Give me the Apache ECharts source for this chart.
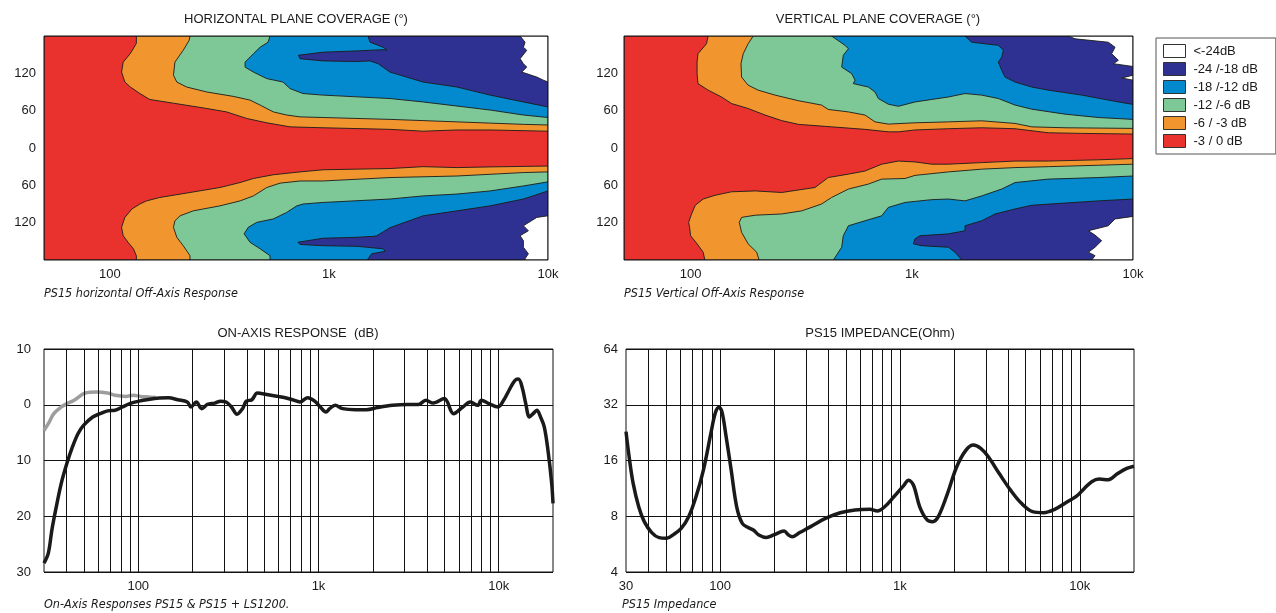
<!DOCTYPE html>
<html><head><meta charset="utf-8">
<script src="https://cdn.jsdelivr.net/npm/echarts@6/dist/echarts.min.js"></script>
<style>html,body{margin:0;padding:0;background:#fff}#c{width:1276px;height:613px}</style>
</head><body><div id="c"></div><script>
// ---------- DATA ----------
// Coverage plots: boundary curves [frequency Hz, angle deg] for each level
const hUp3 = [[132,180],[132,168],[124,152],[115,138],[113,122],[117,106],[124,98],[137,87.5],[152,78],[195,72],[277,63.5],[341,58],[421,47.5],[520,40.5],[664,34],[940,32.5],[1900,30],[2690,27],[3840,29],[5440,29],[10000,27]];
const hUp6 = [[232,180],[230,173],[216,157],[198,138],[195,117],[202,106],[224,98],[277,90],[365,83],[436,77],[485,69],[557,58],[641,53],[738,50],[940,49],[1900,46],[3840,42],[7720,38],[10000,37]];
const hUp12 = [[538,180],[527,170],[485,162],[452,151.5],[414,138],[414,130],[452,122],[520,111.5],[617,106],[664,95.5],[761,87.5],[940,85],[1900,79.5],[2690,74],[5440,61],[7720,53],[10000,49]];
const hUp18 = [[1508,180],[1540,170],[1766,162],[1842,157],[1766,158],[1330,156],[940,154],[725,149],[738,143.5],[940,140],[1330,139],[1540,140],[1675,135.5],[1900,122],[2690,106],[3840,98],[5440,85],[7720,74],[10000,66]];
const hUp24 = [[7457,180],[7857,170],[7720,162],[8000,157],[7457,143.5],[7720,135.5],[8000,130],[7590,122],[8890,114],[9527,109],[10000,106]];
const hLo3 = [[132,-180],[132,-173],[128,-162],[121,-151.5],[115,-141],[113,-127.5],[117,-111.5],[126,-98],[137,-90],[147,-85],[169,-79.5],[232,-71.5],[318,-63.5],[393,-55.5],[452,-49],[557,-43],[738,-38.4],[940,-35],[1900,-33],[2690,-30],[3840,-31.5],[5440,-30.4],[10000,-29]];
const hLo6 = [[232,-180],[232,-173],[216,-157],[202,-143.5],[195,-127.5],[198,-117],[209,-109],[240,-101],[318,-93],[393,-85],[452,-77],[520,-63.5],[598,-56.5],[738,-53],[940,-53],[1900,-47.5],[3840,-45],[7720,-39.5],[10000,-38.4]];
const hLo12 = [[538,-180],[538,-173],[485,-162],[436,-151.5],[410,-138],[428,-127.5],[468,-119.5],[557,-114],[641,-103.5],[713,-93],[761,-90],[940,-87.5],[1900,-82],[2690,-77],[3840,-74],[5440,-69],[7720,-61],[10000,-54.4]];
const hLo18 = [[1508,-180],[1508,-178],[1568,-170],[1803,-166],[1766,-162],[1343,-158],[940,-157],[738,-155],[722,-151.5],[940,-145],[1343,-143.5],[1590,-142],[1653,-141],[1901,-128],[2690,-109],[3844,-101],[5440,-93],[7720,-82],[10000,-69]];
const hLo24 = [[10000,-109],[8890,-111.5],[7720,-125],[8135,-133],[7457,-141],[7720,-149],[7720,-159.5],[8135,-170],[7857,-178],[7857,-180]];

const vUp3 = [[120,180],[118,167.5],[108,151.5],[107,138],[107,119.5],[108,103.5],[120,93],[138,82],[153,71.5],[182,63.5],[217,53],[258,44],[307,38],[434,34],[614,30],[783,26],[870,26],[1034,29],[1464,31],[2070,32.5],[2928,31],[4142,24.5],[5860,23.5],[10000,22.4]];
const vUp6 = [[192,180],[182,167.5],[173,151.5],[169,135.5],[170,114],[182,101],[202,93],[241,85],[307,76],[391,69],[419,62],[517,58],[614,53],[682,42],[783,38.4],[1034,40.5],[1464,42],[2070,43.7],[2928,39.5],[3483,34],[4928,32.5],[10000,31.5]];
const vUp12 = [[434,180],[499,165],[517,159.5],[490,149],[482,130],[535,119.5],[554,109],[544,103.5],[636,98],[682,90],[706,79.5],[783,70.4],[870,67],[1034,74],[1230,78],[1464,82],[1740,87.5],[2070,85],[2462,79.5],[2928,69],[3483,62.4],[4928,54.4],[6970,49],[10000,46]];
const vUp18 = [[1740,180],[1865,170],[2462,165],[2594,157],[2549,146],[2462,138],[2549,125],[2639,114],[2928,106],[3483,98],[4142,93],[5860,85],[7734,77],[10000,70]];
const vUp24 = [[5100,180],[5468,175.5],[7734,170],[8293,162],[8008,151.5],[8585,141],[8150,135.5],[10000,131]];
const vUp24b = [[10000,117],[8890,112.5],[10000,109]];
const vLo3 = [[116,-180],[114,-167.5],[107,-154],[100,-141],[99,-127.5],[98,-119.5],[101,-106],[105,-92],[114,-82],[129,-76],[153,-70.4],[196,-69],[258,-71.5],[365,-63.5],[419,-47.5],[517,-42],[614,-37],[731,-26],[870,-21],[1034,-22.4],[1230,-26],[1464,-26],[2070,-23.5],[2928,-21],[4142,-21],[6970,-19],[10000,-17]];
const vLo6 = [[204,-180],[199,-167.5],[182,-154],[170,-135.5],[166,-119.5],[170,-111.5],[196,-108],[258,-106],[318,-101],[391,-90],[434,-79.5],[517,-66],[636,-58],[731,-50],[932,-49],[1034,-44],[1464,-38.4],[2070,-34],[2928,-31.5],[4142,-30],[6970,-27.7],[10000,-26]];
const vLo12 = [[442,-180],[482,-159.5],[490,-141],[517,-125],[614,-117],[731,-109],[783,-95.5],[932,-87.5],[1230,-83],[1464,-82],[1740,-85],[2070,-77],[2549,-66],[2928,-55.5],[4142,-50],[6970,-47.5],[10000,-45]];
const vLo18 = [[1681,-180],[1568,-167.5],[1464,-159.5],[1108,-157],[1016,-154],[1034,-146],[1089,-141],[1464,-138],[1740,-133],[1740,-125],[2070,-117],[2378,-106],[2928,-98],[3483,-92],[4928,-88.5],[6970,-85],[10000,-82]];
const vLo24 = [[10000,-110],[8293,-114],[7734,-125],[6283,-133],[6735,-140],[7215,-149],[6735,-159.5],[6283,-167.5],[6735,-173],[6507,-180]];

const levelNames = ['-3 / 0 dB','-6 / -3 dB','-12 /-6 dB','-18 /-12 dB','-24 /-18 dB','<-24dB'];
const levelColors = ['#E9322E','#F1962F','#7DC896','#0389CD','#2E3192','#FFFFFF'];

// On-axis response [Hz, dB]
const ps15 = [[30,-28.4],[31.7,-26.6],[33.2,-22.4],[34.8,-18.9],[37.4,-14.1],[40.2,-10.5],[43.1,-7.6],[46.3,-5.2],[49.7,-3.7],[55.9,-2.2],[61.5,-1.6],[67.6,-1.1],[74.3,-1.0],[81.6,-0.4],[89.7,0.2],[101,0.65],[113.6,0.95],[131,1.2],[147,1.25],[166,0.9],[187,0.5],[196,-0.4],[210,0.5],[225,-0.7],[242,0.05],[266,0.3],[286,0.65],[307,0.5],[329,-0.4],[353,-1.7],[379,-0.7],[398,0.65],[427,0.9],[458,2.1],[516,1.85],[595,1.5],[654,1.25],[718,0.9],[789,0.5],[868,1.25],[953,0.65],[1023,-0.4],[1099,-1.3],[1153,-0.7],[1237,-0.1],[1360,-0.7],[1604,-0.9],[1848,-0.9],[2131,-0.5],[2575,-0.1],[3110,0.05],[3583,0.05],[3940,0.8],[4330,0.3],[4990,1.1],[5615,-1.6],[6320,-0.4],[6950,0.5],[7640,-0.1],[8010,0.8],[8810,0.2],[9910,-0.4],[10640,0.8],[11410,2.6],[12250,4.3],[12850,4.6],[13470,3.2],[14120,0.2],[14800,-2.2],[15520,-1.6],[16270,-1.0],[17060,-2.2],[17900,-4.0],[18760,-8.2],[19670,-14.1],[20000,-17.7]];
const ps15ls = [[30,-4.6],[31.7,-3.4],[34,-1.6],[37.4,-0.4],[40.2,0.2],[44.1,0.8],[50.8,2.1],[58.6,2.3],[67.6,2.1],[74.3,1.7],[85.5,1.5],[94,1.7],[103,1.5],[113.6,1.4],[125,1.3]];

// Impedance [Hz, Ohm]
const imp = [[30,22.9],[31.4,16.1],[32.9,12.0],[35.3,9.0],[37.9,7.48],[41.7,6.53],[45.8,6.13],[50.4,6.08],[55.3,6.39],[60.8,6.88],[66.9,7.96],[73.5,10.2],[80.8,14.2],[88.9,22.4],[94,28.8],[98.6,31.0],[102.4,29.4],[107.4,22.4],[115.3,14.2],[123.7,9.0],[132.8,7.33],[142.6,6.97],[153.1,6.74],[164.3,6.34],[180.7,6.15],[198.7,6.34],[218.4,6.60],[227,6.65],[240,6.34],[252,6.20],[277,6.53],[319,7.03],[385,7.79],[466,8.36],[563,8.65],[680,8.72],[748,8.54],[822,9.0],[925,10.2],[1040,11.6],[1117,12.5],[1188,11.8],[1288,9.0],[1416,7.64],[1520,7.48],[1633,7.96],[1837,10.6],[2068,14.8],[2329,18.2],[2559,19.4],[2812,18.6],[3093,16.8],[3563,13.6],[4109,11.1],[4734,9.39],[5458,8.47],[6290,8.36],[7250,8.72],[8355,9.47],[9630,10.3],[10590,11.3],[11640,12.3],[12800,12.7],[14390,12.6],[16210,13.6],[18240,14.5],[20000,14.9]];

// Tick labels and grid lines
const freqLabelsTop = {100:'100',1000:'1k',10000:'10k'};
const freqLabelsOnAxis = {100:'100',1000:'1k',10000:'10k'};
const freqLabelsImp = {30:'30',100:'100',1000:'1k',10000:'10k'};
const gridFreqs = [40,50,60,70,80,90,100,200,300,400,500,600,700,800,900,1000,2000,3000,4000,5000,6000,7000,8000,9000,10000];

// ---------- CHART ----------
const FMIN = 50, FMAX = 10000;
const closeU = b => b.concat([[FMAX,180]]);
const closeL = b => b.concat([[FMAX,-180]]);
const fullRect = [[FMIN,-180],[FMAX,-180],[FMAX,180],[FMIN,180]];

const hPolys = [[fullRect],[closeU(hUp3),closeL(hLo3)],[closeU(hUp6),closeL(hLo6)],[closeU(hUp12),closeL(hLo12)],[closeU(hUp18),closeL(hLo18)],[closeU(hUp24),closeL(hLo24)]];
const vPolys = [[fullRect],[closeU(vUp3),closeL(vLo3)],[closeU(vUp6),closeL(vLo6)],[closeU(vUp12),closeL(vLo12)],[closeU(vUp18),closeL(vLo18)],[closeU(vUp24),closeL(vLo24),vUp24b]];

const FONT = 'Liberation Sans, Arial, Helvetica, sans-serif';
const NARROW = 'Liberation Sans Narrow, DejaVu Sans Condensed, sans-serif';

function polySeries(polys, color, name, idx){
  return {
    type:'custom', name:name, xAxisIndex:idx, yAxisIndex:idx, clip:true, silent:true,
    itemStyle:{color:color},
    data: polys.map(p => p[0]),
    encode:{x:0,y:1},
    renderItem:function(params, api){
      const pts = polys[params.dataIndex].map(p => api.coord(p));
      return {type:'polygon', shape:{points:pts}, style:{fill:color, stroke:'#1b1b1b', lineWidth:0.9}};
    },
    animation:false
  };
}
function frameSeries(idx){
  return {
    type:'custom', name:'frame', xAxisIndex:idx, yAxisIndex:idx, silent:true, z:5,
    data:[fullRect[0]], encode:{x:0,y:1},
    renderItem:function(params, api){
      const pts = fullRect.map(p => api.coord(p));
      return {type:'polygon', shape:{points:pts}, style:{fill:'none', stroke:'#111', lineWidth:1}};
    },
    animation:false
  };
}
function freqFmt(map){ return v => { const r = Math.round(v); return map[r] !== undefined ? map[r] : ''; }; }
const labelStyle = {fontFamily:FONT, fontSize:13, color:'#1a1a1a'};

const series = [];
for (let i=0;i<6;i++) series.push(polySeries(hPolys[i], levelColors[i], levelNames[i], 0));
series.push(frameSeries(0));
for (let i=0;i<6;i++) series.push(polySeries(vPolys[i], levelColors[i], levelNames[i], 1));
series.push(frameSeries(1));

function gridLineSeries(idx, y){
  return {
    type:'line', xAxisIndex:idx, yAxisIndex:idx, data:[[100,y]], showSymbol:false, symbolSize:0,
    lineStyle:{width:0}, z:1, silent:true, animation:false,
    markLine:{silent:true, symbol:['none','none'], label:{show:false}, animation:false,
      lineStyle:{color:'#111', width:1, type:'solid'},
      emphasis:{disabled:true},
      data: gridFreqs.map(f => ({xAxis:f}))}
  };
}
series.push(gridLineSeries(2, 0));
series.push({type:'line', name:'PS15 + LS1200', xAxisIndex:2, yAxisIndex:2, data:ps15ls, showSymbol:false, smooth:0.35,
  lineStyle:{color:'#9d9d9d', width:3.5}, z:3, silent:true, animation:false});
series.push({type:'line', name:'PS15', xAxisIndex:2, yAxisIndex:2, data:ps15, showSymbol:false, smooth:0.35,
  lineStyle:{color:'#1a1a1a', width:3.5}, z:4, silent:true, animation:false});
series.push(gridLineSeries(3, 8));
series.push({type:'line', name:'Impedance', xAxisIndex:3, yAxisIndex:3, data:imp, showSymbol:false, smooth:0.35,
  lineStyle:{color:'#1a1a1a', width:3.5}, z:4, silent:true, animation:false});

const covY = (margin) => ({type:'value', min:-180, max:180, interval:60,
  axisLine:{show:false}, axisTick:{show:false}, splitLine:{show:false},
  axisLabel:Object.assign({margin:margin, formatter:v => Math.abs(v)===180 ? '' : String(Math.abs(v))}, labelStyle)});
const covX = () => ({type:'log', logBase:10, min:FMIN, max:FMAX,
  axisLine:{show:false}, axisTick:{show:false}, splitLine:{show:false},
  axisLabel:Object.assign({margin:8, formatter:freqFmt(freqLabelsTop), showMinLabel:true, showMaxLabel:true}, labelStyle)});

const titleStyle = {fontFamily:FONT, fontSize:13, fontWeight:'normal', color:'#1a1a1a'};
const subStyle = {fontFamily:NARROW, fontSize:12.5, fontStyle:'italic', fontWeight:'normal', color:'#1a1a1a'};

const option = {
  animation:false,
  backgroundColor:'#ffffff',
  title:[
    {text:'HORIZONTAL PLANE COVERAGE (°)', left:296, top:13, textAlign:'center', textStyle:titleStyle, padding:0},
    {text:'VERTICAL PLANE COVERAGE (°)', left:878, top:13, textAlign:'center', textStyle:titleStyle, padding:0},
    {text:'ON-AXIS RESPONSE  (dB)', left:298, top:327, textAlign:'center', textStyle:titleStyle, padding:0},
    {text:'PS15 IMPEDANCE(Ohm)', left:880, top:327, textAlign:'center', textStyle:titleStyle, padding:0},
    {text:'PS15 horizontal Off-Axis Response', left:44, top:287, textStyle:subStyle, padding:0},
    {text:'PS15 Vertical Off-Axis Response', left:624, top:287, textStyle:subStyle, padding:0},
    {text:'On-Axis Responses PS15 & PS15 + LS1200.', left:44, top:598, textStyle:subStyle, padding:0},
    {text:'PS15 Impedance', left:622, top:598, textStyle:subStyle, padding:0}
  ],
  legend:{
    left:1156, top:38, orient:'vertical', itemWidth:22, itemHeight:13, itemGap:4,
    padding:[6,18,6,7], borderColor:'#555', borderWidth:1, backgroundColor:'#fff',
    selectedMode:false, icon:'rect',
    textStyle:{fontFamily:FONT, fontSize:13, color:'#1a1a1a', padding:[0,0,0,3]},
    data: levelNames.slice().reverse().map((n) => ({name:n, icon:'rect',
      itemStyle:{color:levelColors[levelNames.indexOf(n)], borderColor:'#333', borderWidth:1}}))
  },
  grid:[
    {left:44, top:36, width:504, height:224, show:false},
    {left:624, top:36, width:509, height:224, show:false},
    {left:44, top:349, width:509, height:223, show:true, borderColor:'#111', borderWidth:1, backgroundColor:'transparent'},
    {left:626, top:349, width:508, height:223, show:true, borderColor:'#111', borderWidth:1, backgroundColor:'transparent'}
  ],
  xAxis:[
    Object.assign(covX(), {gridIndex:0}),
    Object.assign(covX(), {gridIndex:1}),
    {gridIndex:2, type:'log', logBase:10, min:30, max:20000,
      axisLine:{show:false}, axisTick:{show:false}, splitLine:{show:false},
      axisLabel:Object.assign({margin:8, formatter:freqFmt(freqLabelsOnAxis)}, labelStyle)},
    {gridIndex:3, type:'log', logBase:10, min:30, max:20000,
      axisLine:{show:false}, axisTick:{show:false}, splitLine:{show:false},
      axisLabel:Object.assign({margin:8, formatter:freqFmt(freqLabelsImp)}, labelStyle)}
  ],
  yAxis:[
    Object.assign(covY(8), {gridIndex:0}),
    Object.assign(covY(6), {gridIndex:1}),
    {gridIndex:2, type:'value', min:-30, max:10, interval:10,
      axisLine:{show:false}, axisTick:{show:false},
      splitLine:{show:true, lineStyle:{color:'#111', width:1}},
      axisLabel:Object.assign({margin:13, formatter:v => String(Math.abs(v))}, labelStyle)},
    {gridIndex:3, type:'log', logBase:2, min:4, max:64,
      axisLine:{show:false}, axisTick:{show:false},
      splitLine:{show:true, lineStyle:{color:'#111', width:1}},
      axisLabel:Object.assign({margin:8, formatter:v => String(Math.round(v))}, labelStyle)}
  ],
  series:series
};
const chart = echarts.init(document.getElementById('c'), null, {renderer:'canvas'});
chart.setOption(option);
</script></body></html>
